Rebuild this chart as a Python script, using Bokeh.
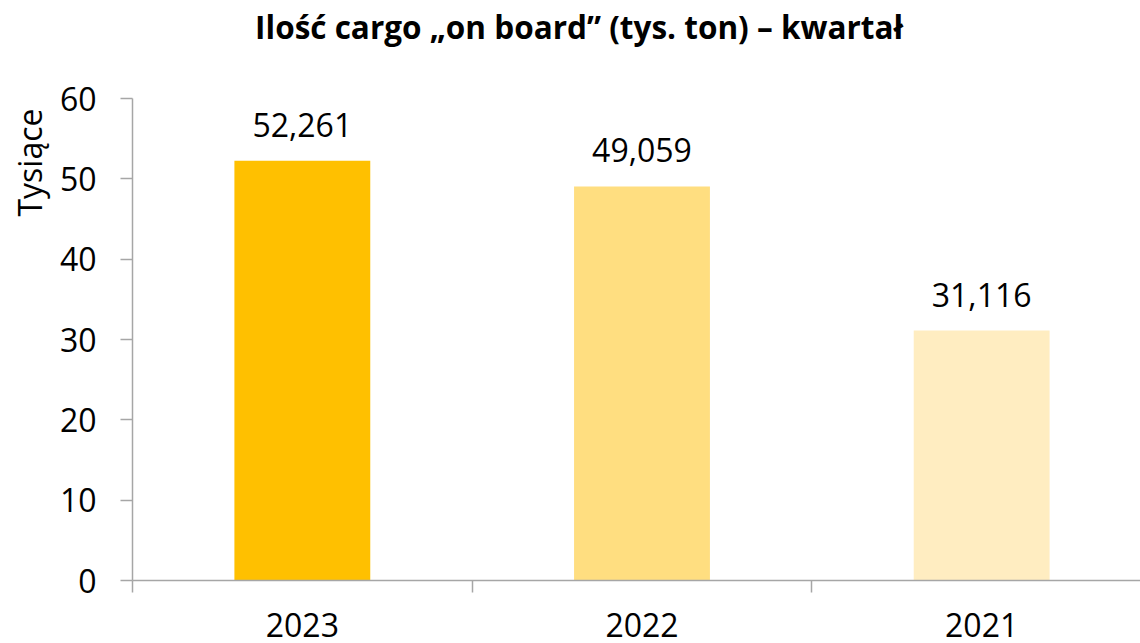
from bokeh.plotting import figure
from bokeh.models import Range1d, FixedTicker, Title, Label, ColumnDataSource
from bokeh.core.properties import value
from bokeh.embed import file_html
from bokeh.resources import INLINE

# ---- data ----
title_text = "Ilość cargo „on board” (tys. ton) – kwartał"
categories = ["2023", "2022", "2021"]
values = [52.261, 49.059, 31.116]
colors = ["#FFC000", "#FFDE80", "#FFEDC1"]
y_ticks = [0, 10, 20, 30, 40, 50, 60]
y_unit_label = "Tysiące"

FONT = "Open Sans"
AXIS_COLOR = "#A6A6A6"
W, H = 1140, 643
FRAME_LEFT, AXIS_TOP, FRAME_BOTTOM = 131, 98, 580   # pixel layout
CAT_PX = 340                                         # pixel width of one category
Y_MAX = 60

px_per_unit = (FRAME_BOTTOM - AXIS_TOP) / Y_MAX
y_end = FRAME_BOTTOM / px_per_unit                   # frame extends to canvas top
x_end = (W - FRAME_LEFT) / CAT_PX

xs = [i + 0.5 for i in range(len(categories))]
labels = [f"{v:.3f}".replace(".", ",") for v in values]
src = ColumnDataSource(dict(x=xs, top=values, color=colors, label=labels))

p = figure(width=W, height=H, output_backend="svg", toolbar_location=None,
           x_range=Range1d(0, x_end), y_range=Range1d(0, y_end),
           min_border_left=FRAME_LEFT, min_border_right=0, min_border_top=0,
           min_border_bottom=H - FRAME_BOTTOM)
try:
    p.title = None
except Exception:
    p.title.visible = False
p.outline_line_color = None
p.xgrid.grid_line_color = None
p.ygrid.grid_line_color = None
p.background_fill_color = "white"
p.border_fill_color = "white"

p.vbar(x="x", top="top", bottom=0, width=0.4, color="color", line_color=None, source=src)
p.text(x="x", y="top", text="label", source=src, text_align="center",
       text_baseline="alphabetic", y_offset=-36, text_font=value(FONT),
       text_font_size="32px", text_color="#000000")

# x axis: labels at centers, ticks at category boundaries
xa = p.xaxis[0]
xa.ticker = FixedTicker(ticks=xs, minor_ticks=list(range(len(categories) + 1)))
xa.major_label_overrides = {x: c for x, c in zip(xs, categories)}
xa.major_tick_out = 0
xa.major_tick_in = 0
xa.minor_tick_out = 12
xa.minor_tick_in = 0
xa.minor_tick_line_color = AXIS_COLOR
xa.minor_tick_line_width = 1.5
xa.axis_line_color = AXIS_COLOR
xa.axis_line_width = 1.5
xa.major_label_standoff = 20
xa.major_label_text_font = FONT
xa.major_label_text_font_size = "32px"
xa.major_label_text_color = "#000000"

ya = p.yaxis[0]
ya.ticker = FixedTicker(ticks=y_ticks, minor_ticks=[])
ya.bounds = (0, Y_MAX)
ya.major_tick_out = 12
ya.major_tick_in = 0
ya.major_tick_line_color = AXIS_COLOR
ya.major_tick_line_width = 1.5
ya.axis_line_color = AXIS_COLOR
ya.axis_line_width = 1.5
ya.major_label_standoff = 24
ya.major_label_text_font = FONT
ya.major_label_text_font_size = "32px"
ya.major_label_text_color = "#000000"

# chart title, placed in the empty space above the value axis
p.add_layout(Label(x=(578 - FRAME_LEFT) / CAT_PX, y=(FRAME_BOTTOM - 26) / px_per_unit,
                   text=title_text, text_align="center", text_baseline="alphabetic",
                   text_font=FONT, text_font_style="bold", text_font_size="31.5px",
                   text_color="#000000"))

# unit label near top of the value axis
p.add_layout(Title(text=y_unit_label, align="right", offset=108, standoff=11,
                   text_font=FONT, text_font_style="normal", text_font_size="32px",
                   text_color="#000000"), "left")

open("out.html", "w").write(file_html(p, INLINE))
